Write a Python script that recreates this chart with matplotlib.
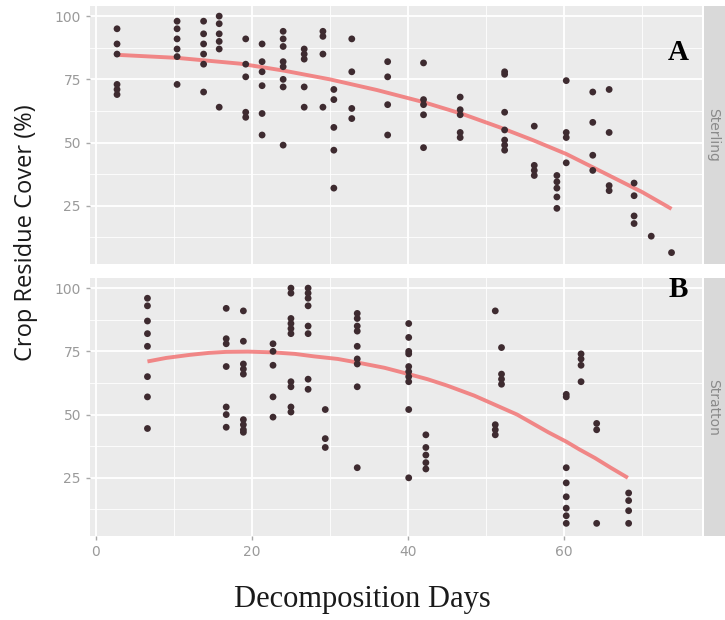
#!/usr/bin/env python3
import matplotlib
matplotlib.use('Agg')
import matplotlib.pyplot as plt

# Sterling (panel A): decomposition day columns and the cover readings in each
sterling_days = [2.7, 10.4, 13.8, 15.8, 19.2, 21.3, 24.0, 26.7, 29.1, 30.5, 32.8, 37.4,
	42.0, 46.7, 52.4, 56.2, 59.1, 60.3, 63.7, 65.8, 69.0, 71.2, 73.8]
sterling_cover = [
	[95, 89, 85, 73, 71, 69],
	[98, 95, 91, 87, 84, 73],
	[98, 93, 89, 85, 81, 70],
	[100, 97, 93, 90, 87, 64],
	[91, 81, 76, 62, 60],
	[89, 82, 78, 72.5, 61.5, 53],
	[94, 91, 88, 82, 80, 75, 72, 49],
	[87, 85, 83, 72, 64],
	[94, 92, 85, 64],
	[71, 67, 56, 47, 32],
	[91, 78, 63.5, 59.5],
	[82, 76, 65, 53],
	[81.5, 67, 65, 61, 48],
	[68, 63, 61, 54, 52],
	[78, 77, 62, 55, 51, 49, 47],
	[56.5, 41, 39, 37],
	[37, 34.5, 32, 28.5, 24],
	[74.5, 54, 52, 42],
	[70, 58, 45, 39],
	[71, 54, 33, 31],
	[34, 29, 21, 18],
	[13],
	[6.5],
]
sterling_fit_x = [2.7, 10.4, 18.5, 24, 30, 36, 42, 47, 51.8, 56, 60.3, 65.8, 70, 73.8]
sterling_fit_y = [84.7, 83.5, 81.2, 78.5, 75, 70.8, 66, 61.3, 56, 51, 45.5, 37, 30.5, 23.8]

# Stratton (panel B)
stratton_days = [6.6, 16.7, 18.9, 22.7, 25.0, 27.2, 29.4, 33.5, 40.1, 42.3, 51.2, 52.0,
	60.3, 62.2, 64.2, 68.3]
stratton_cover = [
	[96, 93, 87, 82, 77, 65, 57, 44.5],
	[92, 80, 78, 69, 53, 50, 45],
	[91, 79, 70, 68, 66, 48, 46, 44, 43],
	[78, 75, 69.5, 57, 49],
	[100, 98, 88, 86, 84, 82, 63, 61, 53, 51],
	[100, 98, 96, 93, 85, 82, 64, 60],
	[52, 40.5, 37],
	[90, 88, 85, 83, 77, 72, 70, 61, 29],
	[86, 80.5, 75, 74, 69, 67, 65, 63, 52, 25],
	[42, 37, 34, 31, 28.5],
	[91, 46, 44, 42],
	[76.5, 66, 64, 62],
	[58, 57, 29, 23, 17.5, 13, 10, 7],
	[74, 72, 69.5, 63],
	[46.5, 44, 7],
	[19, 16, 12, 7],
]
stratton_fit_x = [6.6, 9, 12, 14.5, 16.7, 19.5, 22.7, 25.5, 28, 31, 33.5, 37, 40.1, 42.5,
	45, 48.5, 51.8, 54, 56, 58, 60.3, 62, 64, 66, 68.2]
stratton_fit_y = [71, 72.4, 73.6, 74.4, 74.8, 74.9, 74.6, 74, 73, 72, 70.6, 68.5, 66,
	64, 61.5, 57.5, 53, 50, 46.5, 43, 39.3, 36.2, 32.8, 29, 25]

panel_names = ['Sterling', 'Stratton']
panel_letters = ['A', 'B']
x_ticks = [0, 20, 40, 60]
y_ticks = [25, 50, 75, 100]


def flatten(days, cover):
	xs, ys = [], []
	for d, col in zip(days, cover):
		for c in col:
			xs.append(d)
			ys.append(c)
	return xs, ys


def draw_panel(fig, rect, days, cover, fit_x, fit_y, name, letter, show_x):
	ax = fig.add_axes(rect)
	ax.set_facecolor('#ebebeb')
	ax.set_xlim(-0.77, 77.7)
	ax.set_ylim(2, 104)
	ax.set_xticks(x_ticks)
	ax.set_yticks(y_ticks)
	ax.set_xticks([10, 30, 50, 70], minor=True)
	ax.set_yticks([12.5, 37.5, 62.5, 87.5], minor=True)
	ax.grid(True, which='major', color='white', lw=1.3)
	ax.grid(True, which='minor', color='white', lw=0.6)
	ax.set_axisbelow(True)
	for s in ax.spines.values():
		s.set_visible(False)
	ax.tick_params(which='major', colors='#a8a8a8', labelsize=10, length=3, width=1)
	ax.tick_params(which='minor', length=0)
	ax.tick_params(axis='both', labelcolor='#9a9a9a')
	if not show_x:
		ax.tick_params(axis='x', length=0, labelbottom=False)

	xs, ys = flatten(days, cover)
	ax.plot(fit_x, fit_y, '-', color='#f26d6d', lw=2.8, alpha=0.8, zorder=2,
		solid_capstyle='butt', solid_joinstyle='round')
	ax.scatter(xs, ys, s=24, color='#3e2b30', edgecolors='none', zorder=3)

	ax.text(0.962, 0.82 if letter == 'A' else 0.955, letter, transform=ax.transAxes,
		ha='center', va='center', fontsize=21, fontweight='bold',
		family='Liberation Serif', color='black')

	# facet strip on the right
	sx = fig.add_axes([0.971, rect[1], 0.029, rect[3]])
	sx.set_facecolor('#d9d9d9')
	sx.set_xticks([])
	sx.set_yticks([])
	for s in sx.spines.values():
		s.set_visible(False)
	sx.text(0.45, 0.5, name, transform=sx.transAxes, rotation=-90, ha='center',
		va='center', fontsize=10, color='#8a8a8a')
	return ax


def main():
	fig = plt.figure(figsize=(7.25, 6.2), dpi=100)
	draw_panel(fig, [0.1241, 0.5742, 0.8441, 0.4161], sterling_days, sterling_cover,
		sterling_fit_x, sterling_fit_y, panel_names[0], panel_letters[0], False)
	draw_panel(fig, [0.1241, 0.1355, 0.8441, 0.4161], stratton_days, stratton_cover,
		stratton_fit_x, stratton_fit_y, panel_names[1], panel_letters[1], True)
	fig.text(0.036, 0.624, 'Crop Residue Cover (%)', rotation=90, ha='center',
		va='center', fontsize=17, family='Open Sans', color='#1a1a1a')
	fig.text(0.50, 0.033, 'Decomposition Days', ha='center', va='center',
		fontsize=22, family='Liberation Serif', color='#1a1a1a')
	fig.savefig('out.png', dpi=100)


if __name__ == "__main__":
	main()
